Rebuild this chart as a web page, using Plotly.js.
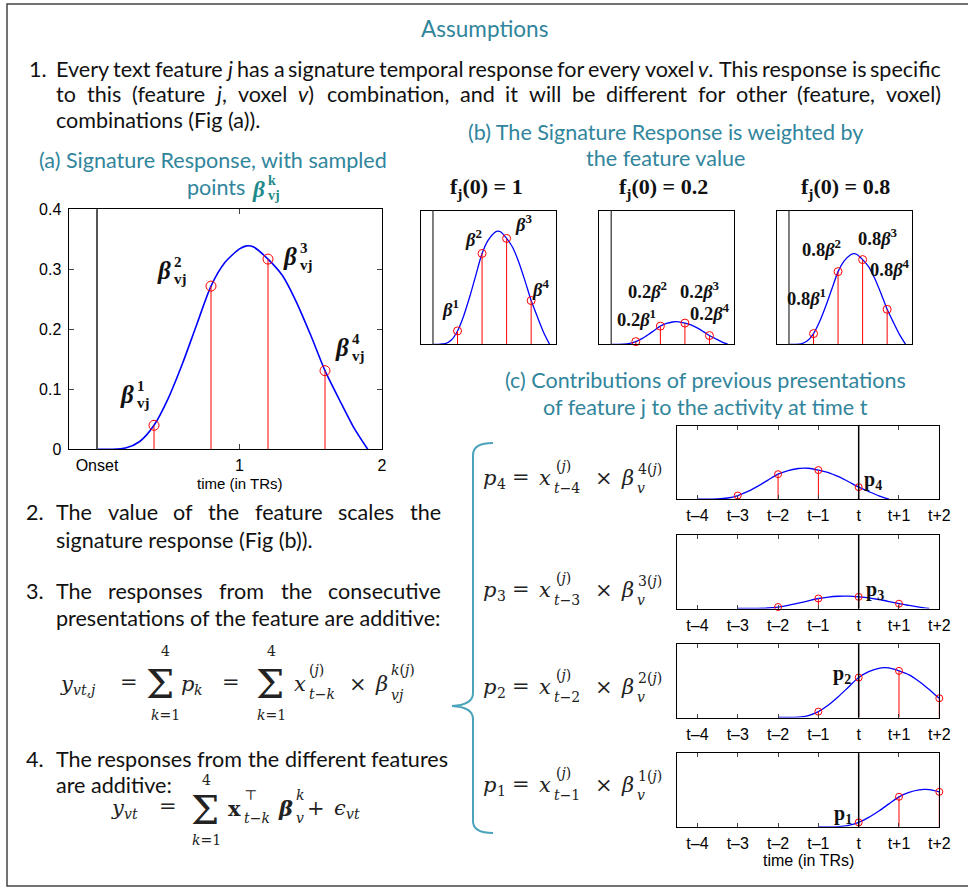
<!DOCTYPE html>
<html><head><meta charset="utf-8">
<script src="https://cdn.plot.ly/plotly-3.0.1.min.js"></script>
<style>html,body{margin:0;padding:0;background:#fff}#chart{width:968px;height:888px}</style>
</head><body><div id="chart"></div>
<script>
// ---------------- data ----------------
const sigX = [0, 0.1, 0.2, 0.3, 0.4, 0.5, 0.6, 0.7, 0.8, 0.9, 1.0, 1.05, 1.1, 1.2, 1.3, 1.4, 1.5, 1.6, 1.7, 1.8, 1.9];
const sigY = [0, 0, 0.002, 0.013, 0.04, 0.085, 0.143, 0.208, 0.272, 0.312, 0.334, 0.339, 0.337, 0.317, 0.29, 0.245, 0.19, 0.131, 0.083, 0.037, 0];
const sampleX = [0.4, 0.8, 1.2, 1.6];
const sampleY = [0.04, 0.272, 0.317, 0.131];
const featureVals = [1, 0.2, 0.8];
const featureLabels = ['1', '0.2', '0.8'];
const lagK = [4, 3, 2, 1];
const lagFeatureVal = [1.0, 0.4, 1.6, 1.2];
const aXTickVals = [0, 1, 2];
const aXTickText = ['Onset', '1', '2'];
const aYTickVals = [0, 0.1, 0.2, 0.3, 0.4];
const aYTickText = ['0', '0.1', '0.2', '0.3', '0.4'];
const cTickOffsets = [-4, -3, -2, -1, 0, 1, 2];
const cTickText = ['t\u20134', 't\u20133', 't\u20132', 't\u20131', 't', 't+1', 't+2'];

// ---------------- helpers ----------------
const W = 968, H = 888;
const px = v => v / W;
const py = v => 1 - v / H;
const TEAL = '#31859c';
const BRACE = '#4aa3ba';
const BODY = 'Lato, "Open Sans", sans-serif';
const MF = '"DejaVu Serif", "Liberation Serif", serif';
const MB = '"Liberation Serif", "DejaVu Serif", serif';
const SANS = '"Liberation Sans", Arial, sans-serif';
const cv = document.createElement('canvas').getContext('2d');
function measure(s, size) { cv.font = size + 'px Lato'; return cv.measureText(s.replace(/<[^>]+>/g, '')).width; }
let fsBody = 18 * 385 / measure('presentations of the feature are additive:', 18);
if (!isFinite(fsBody) || fsBody < 14 || fsBody > 22) fsBody = 18;

const anns = [], shapes = [], traces = [];
function A(x, y, text, opt) {
  anns.push(Object.assign({xref: 'paper', yref: 'paper', x: px(x), y: py(y), text: text, showarrow: false,
    xanchor: 'center', yanchor: 'middle', borderpad: 0}, opt || {}));
}
const bf = (size, color) => ({family: BODY, size: size, color: color || '#111'});
const mf = (size, color) => ({family: MF, size: size, color: color || '#222'});
const mb = (size, color) => ({family: MB, size: size, color: color || '#111'});
function justify(words, left, right, y) {
  const ws = words.map(w => measure(w + '', fsBody) + (w.indexOf('<i>') >= 0 ? 2 : 0));
  const tot = ws.reduce((a, b) => a + b, 0);
  const gap = (right - left - tot) / (words.length - 1);
  let x = left;
  words.forEach((w, i) => { A(x, y, w, {xanchor: 'left', font: bf(fsBody)}); x += ws[i] + gap; });
}

// ---------------- text ----------------
A(484, 28, 'Assumptions', {font: bf(fsBody + 1, TEAL)});
A(28, 68.5, '1.', {xanchor: 'left', font: bf(fsBody)});
justify('Every text feature <i>j</i> has a signature temporal response for every voxel <i>v</i>. This response is specific'.split(' '), 55, 940, 68.5);
justify(['to', 'this', '(feature', '<i>j</i>,', 'voxel', '<i>v</i>)', 'combination,', 'and', 'it', 'will', 'be', 'different', 'for', 'other', '(feature,', 'voxel)'], 55, 940, 94.5);
A(55, 120, 'combinations (Fig (a)).', {xanchor: 'left', font: bf(fsBody)});

A(212.7, 160, '(a) Signature Response, with sampled', {font: bf(fsBody, TEAL)});
A(186, 187, 'points', {xanchor: 'left', font: bf(fsBody, TEAL)});
A(665, 132.3, '(b) The Signature Response is weighted by', {font: bf(fsBody, TEAL)});
A(665, 158.3, 'the feature value', {font: bf(fsBody, TEAL)});
A(705, 380, '(c) Contributions of previous presentations', {font: bf(fsBody, TEAL)});
A(705, 406.7, 'of feature j to the activity at time t', {font: bf(fsBody, TEAL)});

A(25, 512, '2.', {xanchor: 'left', font: bf(fsBody)});
justify(['The', 'value', 'of', 'the', 'feature', 'scales', 'the'], 55, 440, 512);
A(55, 539.5, 'signature response (Fig (b)).', {xanchor: 'left', font: bf(fsBody)});
A(25, 590.5, '3.', {xanchor: 'left', font: bf(fsBody)});
justify(['The', 'responses', 'from', 'the', 'consecutive'], 55, 440, 590.5);
A(55, 617.5, 'presentations of the feature are additive:', {xanchor: 'left', font: bf(fsBody)});
A(25, 758.5, '4.', {xanchor: 'left', font: bf(fsBody)});
justify(['The', 'responses', 'from', 'the', 'different', 'features'], 55, 447, 758.5);
A(55, 785, 'are additive:', {xanchor: 'left', font: bf(fsBody)});

// stacked script helper
function stacked(xr, yc, base, sup, sub, bs, ss, du, dd, fontFn, color) {
  A(xr, yc, base, {xanchor: 'right', font: fontFn(bs, color)});
  if (sup) A(xr + 1, yc - du, sup, {xanchor: 'left', font: fontFn(ss, color)});
  if (sub) A(xr + 1, yc + dd, sub, {xanchor: 'left', font: fontFn(ss, color)});
}
// title beta
stacked(266, 189, '<b><i>β</i></b>', '<b>k</b>', '<b>vj</b>', 23, 14, 9, 6, mb, '#1f8a8a');

// formula 3
const F = 21, Fs = 14;
A(59, 684, '<i>y</i>', {xanchor: 'left', font: mf(F)});
A(72, 690, '<i>vt,j</i>', {xanchor: 'left', font: mf(Fs)});
A(129, 682, '=', {font: mf(F)});
A(160, 684, 'Σ', {font: mf(40)});
A(165.7, 651, '4', {font: mf(14)});
A(165.7, 715, '<i>k</i>=1', {font: mf(14)});
A(180, 684, '<i>p</i>', {xanchor: 'left', font: mf(F)});
A(193, 690, '<i>k</i>', {xanchor: 'left', font: mf(Fs)});
A(231, 682, '=', {font: mf(F)});
A(270, 684, 'Σ', {font: mf(40)});
A(271.7, 651, '4', {font: mf(14)});
A(271.7, 715, '<i>k</i>=1', {font: mf(14)});
stacked(307, 684, '<i>x</i>', '(<i>j</i>)', '<i>t</i>−<i>k</i>', F, Fs, 14, 10, mf);
A(358, 684, '×', {font: mf(F)});
stacked(389, 684, '<i>β</i>', '<i>k</i>(<i>j</i>)', '<i>vj</i>', F, Fs, 14, 11, mf);

// formula 4
A(110, 808, '<i>y</i>', {xanchor: 'left', font: mf(F)});
A(123, 814, '<i>vt</i>', {xanchor: 'left', font: mf(Fs)});
A(168, 806, '=', {font: mf(F)});
A(205, 810, 'Σ', {font: mf(40)});
A(206.7, 780, '4', {font: mf(14)});
A(206.7, 840, '<i>k</i>=1', {font: mf(14)});
stacked(242, 808, '<b>x</b>', '⊤', '<i>t</i>−<i>k</i>', F, Fs, 13, 10, mf);
stacked(294, 808, '<b><i>β</i></b>', '<i>k</i>', '<i>v</i>', F, Fs, 13, 10, mf);
A(316, 808, '+', {font: mf(F)});
A(333, 808, '<i>ϵ</i>', {xanchor: 'left', font: mf(F)});
A(345, 814, '<i>vt</i>', {xanchor: 'left', font: mf(Fs)});

// ---------------- panels ----------------
function addPanel(ax, f, msize, lw, xmax) {
  const xa = 'x' + (ax === 1 ? '' : ax), ya = 'y' + (ax === 1 ? '' : ax);
  traces.push({x: sigX, y: sigY.map(v => v * f), mode: 'lines', line: {color: '#0000ff', width: lw, shape: 'spline', smoothing: 0.7},
    xaxis: xa, yaxis: ya, hoverinfo: 'skip'});
  const sx = [], sy = [], mx = [], my = [];
  sampleX.forEach((s, i) => { sx.push(s, s, null); sy.push(0, sampleY[i] * f, null);
    if (s <= xmax + 1e-9) { mx.push(s); my.push(sampleY[i] * f); } });
  traces.push({x: sx, y: sy, mode: 'lines', line: {color: '#ff0000', width: 1}, xaxis: xa, yaxis: ya, hoverinfo: 'skip'});
  traces.push({x: mx, y: my, mode: 'markers', marker: {symbol: 'circle-open', size: msize, color: '#ff0000', line: {width: 1, color: '#ff0000'}},
    xaxis: xa, yaxis: ya, cliponaxis: false, hoverinfo: 'skip'});
}

const layout = {width: W, height: H, margin: {l: 0, r: 0, t: 0, b: 0}, paper_bgcolor: '#fff', plot_bgcolor: 'rgba(0,0,0,0)',
  showlegend: false, annotations: anns, shapes: shapes};
const baseAx = {showgrid: false, zeroline: false, showline: true, linecolor: '#000', linewidth: 1, mirror: true, fixedrange: true};

// (a)
addPanel(1, 1, 10, 1.6, 2);
layout.xaxis = Object.assign({}, baseAx, {domain: [px(68.5), px(382)], range: [-0.2, 2], anchor: 'y', tickvals: aXTickVals, ticktext: aXTickText,
  ticks: 'inside', ticklen: 5, mirror: 'ticks', tickfont: {family: SANS, size: 16, color: '#000'}, ticklabelstandoff: 1});
layout.yaxis = Object.assign({}, baseAx, {domain: [py(449.3), py(209.3)], range: [0, 0.4], anchor: 'x', tickvals: aYTickVals, ticktext: aYTickText,
  ticks: 'inside', ticklen: 5, mirror: 'ticks', tickfont: {family: SANS, size: 16, color: '#000'}, ticklabelstandoff: 3});
shapes.push({type: 'line', xref: 'x', yref: 'y domain', x0: 0, x1: 0, y0: 0, y1: 1, line: {color: '#555', width: 2}});
A(240, 483, 'time (in TRs)', {font: {family: SANS, size: 15, color: '#000'}});
stacked(135, 394, '<b><i>β</i></b>', '<b>1</b>', '<b>vj</b>', 25, 15, 8, 9, mb);
stacked(171.7, 270, '<b><i>β</i></b>', '<b>2</b>', '<b>vj</b>', 25, 15, 8, 9, mb);
stacked(298.3, 256.3, '<b><i>β</i></b>', '<b>3</b>', '<b>vj</b>', 25, 15, 8, 9, mb);
stacked(350, 347.3, '<b><i>β</i></b>', '<b>4</b>', '<b>vj</b>', 25, 15, 8, 9, mb);

// (b)
const bLeft = [420.7, 599, 776.7];
const bTitleX = [486.7, 663.3, 845];
const bLabelPos = [
  [[450, 308.3], [473.3, 237.7], [523.3, 223.3], [540, 287.7]],
  [[636.7, 317.7], [647.3, 290], [700, 290], [710, 311.7]],
  [[806.7, 296.7], [821.7, 247.7], [878.3, 236.7], [890, 268.3]]
];
featureVals.forEach((f, i) => {
  const n = i + 2;
  addPanel(n, f, 8, 1.3, 2);
  layout['xaxis' + n] = Object.assign({}, baseAx, {domain: [px(bLeft[i]), px(bLeft[i] + 135)], range: [-0.2, 2], anchor: 'y' + n, showticklabels: false, ticks: ''});
  layout['yaxis' + n] = Object.assign({}, baseAx, {domain: [py(344.3), py(210.7)], range: [0, 0.4], anchor: 'x' + n, showticklabels: false, ticks: ''});
  shapes.push({type: 'line', xref: 'x' + n, yref: 'y' + n + ' domain', x0: 0, x1: 0, y0: 0, y1: 1, line: {color: '#555', width: 1.5}});
  A(bTitleX[i], 187.7, '<b>f<sub>j</sub>(0) = ' + featureLabels[i] + '</b>', {font: mb(22)});
  const pre = f === 1 ? '' : featureLabels[i];
  bLabelPos[i].forEach((p, j) => A(p[0], p[1], '<b>' + pre + '<i>β</i><sup>' + (j + 1) + '</sup></b>', {font: mb(18.5)}));
});

// (c)
const trStep = sampleX[1] - sampleX[0];
const cTop = [425.7, 535, 644, 753.3];
const eqY = [478.3, 590, 686.7, 785];
const pLabPos = [[873.3, 480.7], [875, 590], [841.7, 674], [843.3, 814]];
lagK.forEach((k, i) => {
  const n = i + 5;
  const r = [(k - 4.5) * trStep, (k + 2) * trStep];
  addPanel(n, lagFeatureVal[i], 7, 1.3, r[1]);
  layout['xaxis' + n] = Object.assign({}, baseAx, {domain: [px(677.3), px(939.3)], range: r, anchor: 'y' + n,
    tickvals: cTickOffsets.map(d => (k + d) * trStep), ticktext: cTickText, ticks: 'inside', ticklen: 4, mirror: 'ticks',
    tickfont: {family: SANS, size: 16, color: '#000'}, ticklabelstandoff: 2});
  layout['yaxis' + n] = Object.assign({}, baseAx, {domain: [py(cTop[i] + 73.5), py(cTop[i])], range: [0, 0.8], anchor: 'x' + n, showticklabels: false, ticks: ''});
  shapes.push({type: 'line', xref: 'x' + n, yref: 'y' + n + ' domain', x0: k * trStep, x1: k * trStep, y0: 0, y1: 1, line: {color: '#000', width: 1.5}});
  A(pLabPos[i][0], pLabPos[i][1], '<b>p<sub>' + k + '</sub></b>', {font: mb(20)});
  const yc = eqY[i];
  A(482, yc, '<i>p</i>', {xanchor: 'left', font: mf(21)});
  A(496, yc + 6, '' + k, {xanchor: 'left', font: mf(14)});
  A(521, yc - 1, '=', {font: mf(21)});
  A(545, yc, '<i>x</i>', {font: mf(21)});
  A(555, yc - 12, '(<i>j</i>)', {xanchor: 'left', font: mf(14)});
  A(553, yc + 10, '<i>t</i>−' + k, {xanchor: 'left', font: mf(14)});
  A(604, yc, '×', {font: mf(21)});
  A(627, yc, '<i>β</i>', {font: mf(21)});
  A(637, yc - 9, k + '(<i>j</i>)', {xanchor: 'left', font: mf(14)});
  A(636, yc + 10, '<i>v</i>', {xanchor: 'left', font: mf(14)});
});
A(808.3, 860, 'time (in TRs)', {font: {family: SANS, size: 16, color: '#000'}});

// brace
const bp = (x, y) => px(x).toFixed(5) + ',' + py(y).toFixed(5);
shapes.push({type: 'path', xref: 'paper', yref: 'paper', line: {color: BRACE, width: 2},
  path: 'M' + bp(493, 443) + ' Q' + bp(473, 443) + ' ' + bp(473, 455) + ' L' + bp(473, 693) + ' Q' + bp(473, 705) + ' ' + bp(452, 706) +
    ' Q' + bp(473, 707) + ' ' + bp(473, 719) + ' L' + bp(473, 821) + ' Q' + bp(473, 833) + ' ' + bp(493, 833)});
// frame
shapes.push({type: 'rect', xref: 'paper', yref: 'paper', x0: px(7), x1: px(990), y0: py(886), y1: py(4), line: {color: '#444', width: 1.5}});

Plotly.newPlot('chart', traces, layout, {staticPlot: true, displayModeBar: false});
</script></body></html>
